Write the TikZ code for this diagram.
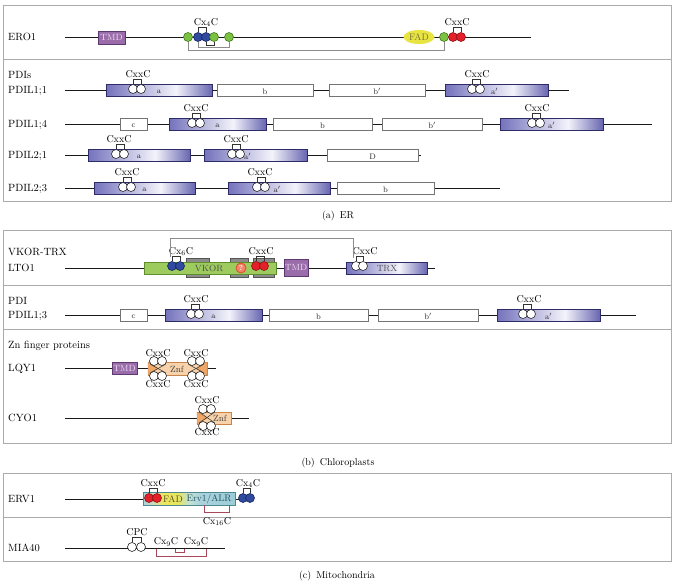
\documentclass[tikz,border=0pt]{standalone}
\usetikzlibrary{shapes.geometric,calc}
\definecolor{pdiL}{HTML}{7472BC}
\definecolor{pdiM}{HTML}{F3F3FB}
\definecolor{pdiR}{HTML}{6866B0}
\definecolor{pdiD}{HTML}{2E2C66}
\definecolor{cgreen}{HTML}{7DC143}
\definecolor{dgreen}{HTML}{3E7A1E}
\definecolor{cblue}{HTML}{2F4A9E}
\definecolor{dblue}{HTML}{17275F}
\definecolor{cred}{HTML}{E4202A}
\definecolor{dred}{HTML}{8E1414}
\definecolor{tmdF}{HTML}{9A6DAA}
\definecolor{tmdD}{HTML}{5E3A70}
\definecolor{tmdT}{HTML}{EEDDF4}
\definecolor{fadY}{HTML}{E8E442}
\definecolor{fadT}{HTML}{77703A}
\definecolor{znfF}{HTML}{F8D2AA}
\definecolor{znfD}{HTML}{C8844A}
\definecolor{znfTri}{HTML}{F0A868}
\definecolor{vkF}{HTML}{9DCB5E}
\definecolor{vkD}{HTML}{5E8E2E}
\definecolor{tmG}{HTML}{8C8C8C}
\definecolor{tmGD}{HTML}{555555}
\definecolor{ervBd}{HTML}{4E8890}
\definecolor{ervA}{HTML}{AAD2DC}
\definecolor{ervB}{HTML}{CFDDB8}
\definecolor{ervY}{HTML}{EEE85A}
\definecolor{ervY2}{HTML}{E6E460}
\definecolor{ervC}{HTML}{C2E2D4}
\definecolor{ervE}{HTML}{9CCCD8}
\definecolor{ervTxt}{HTML}{1F4F5F}
\definecolor{rbr}{HTML}{A8485A}
\definecolor{qF}{HTML}{F2866A}
\definecolor{qD}{HTML}{E04A2A}
\pgfdeclarehorizontalshading{pdishade}{100bp}{color(0bp)=(pdiL); color(25bp)=(pdiL); color(58bp)=(pdiM); color(75bp)=(pdiR); color(100bp)=(pdiR)}
\pgfdeclarehorizontalshading{ervshade}{100bp}{color(0bp)=(ervA); color(25bp)=(ervA); color(31bp)=(ervB); color(36bp)=(ervY); color(44bp)=(ervY2); color(50bp)=(ervC); color(56bp)=(ervA); color(75bp)=(ervE); color(100bp)=(ervE)}
\newcommand{\dombox}[7]{%
  \node[#1, minimum width={(#4-#3)*1pt}] (#2) at ({(#3+#4)/2},#5) {};
  \node[dl] (#2t) at ({(#3+#4)/2+#7},#5+1.5) {#6};}
\newcommand{\cpair}[7]{%
  \node[#1] (#2a) at (#3,#5) {};
  \node[#1] (#2b) at (#4,#5) {};
  \draw[brk] (#2a.north) -- ++(0,-4.5) -| (#2b.north);
  \node[motif] (#2l) at (#7,#5-12) {#6};}
\begin{document}
\begin{tikzpicture}[x=1pt,y=-1pt,
  mainline/.style={line width=0.9pt, draw=black!90},
  panel/.style={draw=black!33, line width=0.9pt},
  bdom/.style={draw=pdiD, line width=0.7pt, shade, shading=pdishade, minimum height=12pt, inner sep=0pt, outer sep=0pt},
  wdom/.style={draw=black!55, line width=0.7pt, fill=white, minimum height=12pt, inner sep=0pt, outer sep=0pt},
  dl/.style={font=\fontsize{8}{9}\selectfont, inner sep=0pt, text=black!85},
  lab/.style={font=\fontsize{10.5}{12}\selectfont, anchor=base west, inner sep=0pt, text=black},
  motif/.style={font=\fontsize{10}{12}\selectfont, anchor=base, inner sep=0pt, text=black},
  capt/.style={font=\fontsize{10}{12}\selectfont, inner sep=0pt, text=black},
  cys/.style={circle, inner sep=0pt, minimum size=9pt, line width=0.6pt},
  cw/.style={cys, draw=black!85, fill=white},
  cg/.style={cys, draw=dgreen, fill=cgreen},
  cb/.style={cys, draw=dblue, fill=cblue},
  cr/.style={cys, draw=dred, fill=cred},
  brk/.style={line width=0.6pt, draw=black!80},
  gbrk/.style={line width=0.8pt, draw=black!45},
  rbrk/.style={line width=0.6pt, draw=rbr},
  xl/.style={line width=0.5pt, draw=black!80},
  tmd/.style={draw=tmdD, fill=tmdF, line width=0.6pt, inner sep=0pt, outer sep=0pt, text=tmdT, font=\fontsize{9}{10}\selectfont},
  znfbox/.style={draw=znfD, fill=znfF, line width=0.6pt, inner sep=0pt, outer sep=0pt},
  znftri/.style={fill=znfTri, draw=znfD, line width=0.4pt},
  tmbox/.style={draw=tmGD, fill=tmG, line width=0.5pt, inner sep=0pt, outer sep=0pt, minimum height=19pt},
  vkbox/.style={draw=vkD, fill=vkF, line width=0.6pt, inner sep=0pt, outer sep=0pt, minimum height=12pt},
  domtxt/.style={font=\fontsize{9}{10}\selectfont, inner sep=0pt}
]
\fill[white] (0,0) rectangle (677,587);
\useasboundingbox (0,0) rectangle (677,587);

% ---------------- panel (a) ----------------
\draw[panel] (3,5) rectangle (671,201);
\draw[panel] (3,59) -- (671,59);
\node[capt] (capA) at (338,216) {(a)\enspace ER};

% ERO1
\node[lab] (lERO) at (8,40.5) {ERO1};
\coordinate (eroS) at (65,37); \coordinate (eroE) at (531,37);
\draw[mainline] (eroS) -- (eroE);
\node[tmd, minimum width=27pt, minimum height=13pt] (eroTMD) at (111.5,37.5) {TMD};
\node[cg] (eg1) at (188,37) {};
\cpair{cb}{eb}{198}{206}{37}{Cx$_4$C}{206}
\node[cg] (eg2) at (214,37) {};
\node[cg] (eg3) at (229,37) {};
\node[ellipse, fill=fadY, minimum width=31pt, minimum height=14pt, inner sep=0pt, text=fadT, font=\fontsize{9.5}{10}\selectfont] (eroFAD) at (419,37) {FAD};
\node[cg] (eg4) at (444,37) {};
\cpair{cr}{er}{453}{461}{37}{CxxC}{457}
\draw[brk] (ebb.south) -- ++(0,3) -| (eg2.south);
\draw[gbrk] (eba.south) -- ++(0,6) -| (eg3.south);
\draw[gbrk] (eg1.south) -- ++(0,9) -| (eg4.south);

% PDIs
\node[lab] (lPDIs) at (8,78.5) {PDIs};
% PDIL1;1
\node[lab] (lP11) at (8,93.5) {PDIL1;1};
\coordinate (p11s) at (65,90); \coordinate (p11e) at (569,90);
\draw[mainline] (p11s) -- (p11e);
\dombox{bdom}{p11a}{106}{212}{90}{a}{0}
\cpair{cw}{p11c}{133}{141}{89}{CxxC}{138}
\dombox{wdom}{p11b}{217}{313}{90}{b}{0}
\dombox{wdom}{p11bp}{329}{425}{90}{b$'$}{0}
\dombox{bdom}{p11ap}{445}{548}{90}{a$'$}{-2}
\cpair{cw}{p11d}{472}{480}{89}{CxxC}{477}

% PDIL1;4
\node[lab] (lP14) at (8,127.5) {PDIL1;4};
\coordinate (p14s) at (65,124); \coordinate (p14e) at (652,124);
\draw[mainline] (p14s) -- (p14e);
\dombox{wdom}{p14c}{120}{147}{124}{c}{0}
\dombox{bdom}{p14a}{169}{266}{124}{a}{0}
\cpair{cw}{p14x}{192}{200}{123}{CxxC}{196}
\dombox{wdom}{p14b}{273}{372}{124}{b}{0}
\dombox{wdom}{p14bp}{382}{482}{124}{b$'$}{0}
\dombox{bdom}{p14ap}{500}{603}{124}{a$'$}{0}
\cpair{cw}{p14y}{532}{540}{123}{CxxC}{537}

% PDIL2;1
\node[lab] (lP21) at (8,158.5) {PDIL2;1};
\coordinate (p21s) at (65,155); \coordinate (p21e) at (421,155);
\draw[mainline] (p21s) -- (p21e);
\dombox{bdom}{p21a}{88}{190}{155}{a}{0}
\cpair{cw}{p21x}{116}{124}{154}{CxxC}{119}
\dombox{bdom}{p21ap}{204}{307}{155}{a$'$}{-8}
\cpair{cw}{p21y}{232}{240}{154}{CxxC}{236}
\dombox{wdom}{p21D}{327}{418}{155}{D}{0}

% PDIL2;3
\node[lab] (lP23) at (8,191.5) {PDIL2;3};
\coordinate (p23s) at (65,188); \coordinate (p23e) at (500,188);
\draw[mainline] (p23s) -- (p23e);
\dombox{bdom}{p23a}{94}{195}{188}{a}{0}
\cpair{cw}{p23x}{123}{131}{187}{CxxC}{127}
\dombox{bdom}{p23ap}{228}{330}{188}{a$'$}{-2}
\cpair{cw}{p23y}{257}{265}{187}{CxxC}{260}
\dombox{wdom}{p23b}{337}{434}{188}{b}{0}

% ---------------- panel (b) ----------------
\draw[panel] (3,230) rectangle (671,443);
\draw[panel] (3,285) -- (671,285);
\draw[panel] (3,329) -- (671,329);
\node[capt] (capB) at (338,463) {(b)\enspace Chloroplasts};

% LTO1
\node[lab] (lVT) at (8,255.5) {VKOR-TRX};
\node[lab] (lLTO) at (8,271.5) {LTO1};
\coordinate (ltS) at (65,268); \coordinate (ltE) at (435,268);
\draw[mainline] (ltS) -- (ltE);
\node[tmbox, minimum width=23pt] (tm1) at (197.5,267.5) {};
\node[tmbox, minimum width=18pt] (tm2) at (239,267.5) {};
\node[tmbox, minimum width=21pt] (tm3) at (263.5,267.5) {};
\node[vkbox, minimum width=132pt] (vk) at (210,268) {};
\node[domtxt, text=black!70] (vkT) at (209,268.5) {VKOR};
\cpair{cb}{vb}{172}{180}{266}{Cx$_6$C}{181}
\node[circle, fill=qF, draw=qD, line width=0.8pt, minimum size=10pt, inner sep=0pt, text=white, font=\fontsize{7}{8}\selectfont\bfseries] (vq) at (241,268) {?};
\cpair{cr}{vr}{256}{264}{266}{CxxC}{261}
\node[tmd, minimum width=24pt, minimum height=17pt] (ltTMD) at (296,267.5) {TMD};
\dombox{bdom}{trx}{346}{427}{268}{}{0}
\node[domtxt, text=black!70] (trxT) at (387,268.5) {TRX};
\cpair{cw}{tc}{356}{363}{266}{CxxC}{365}
\coordinate (vk1) at (170,257); \coordinate (vk2) at (353,258);
\draw[gbrk] (vk1) -- (170,238) -| (vk2);

% PDIL1;3
\node[lab] (lPDI) at (8,304.5) {PDI};
\node[lab] (lP13) at (8,318.5) {PDIL1;3};
\coordinate (p13s) at (65,315); \coordinate (p13e) at (636,315);
\draw[mainline] (p13s) -- (p13e);
\dombox{wdom}{p13c}{120}{147}{315}{c}{0}
\dombox{bdom}{p13a}{165}{262}{315}{a}{0}
\cpair{cw}{p13x}{191}{199}{314}{CxxC}{196}
\dombox{wdom}{p13b}{269}{368}{315}{b}{0}
\dombox{wdom}{p13bp}{378}{478}{315}{b$'$}{0}
\dombox{bdom}{p13ap}{497}{600}{315}{a$'$}{0}
\cpair{cw}{p13y}{523}{531}{314}{CxxC}{529}

% Zn finger proteins
\node[lab] (lZn) at (8,348.5) {Zn finger proteins};
% LQY1
\node[lab] (lLQY) at (8,371.5) {LQY1};
\coordinate (lqS) at (65,368); \coordinate (lqE) at (216,368);
\draw[mainline] (lqS) -- (lqE);
\node[tmd, minimum width=25pt, minimum height=12pt] (lqTMD) at (124.5,368) {TMD};
\node[znfbox, minimum width=59pt, minimum height=13pt] (lqZ) at (177.5,368.5) {};
\filldraw[znftri] (lqZ.north west) -- (lqZ.south west) -- ($(lqZ.west)+(10,0)$) -- cycle;
\filldraw[znftri] (lqZ.north east) -- (lqZ.south east) -- ($(lqZ.east)+(-10,0)$) -- cycle;
\node[domtxt, text=black!75] (lqT) at (177,369) {Znf};
\node[cw] (lqA1) at (154,361) {}; \node[cw] (lqA2) at (162,361) {};
\node[cw] (lqA3) at (154,376) {}; \node[cw] (lqA4) at (162,376) {};
\draw[xl] (lqA1.south west) -- (lqA4.north east);
\draw[xl] (lqA3.north west) -- (lqA2.south east);
\node[cw] (lqB1) at (192,361) {}; \node[cw] (lqB2) at (200,361) {};
\node[cw] (lqB3) at (192,376) {}; \node[cw] (lqB4) at (200,376) {};
\draw[xl] (lqB1.south west) -- (lqB4.north east);
\draw[xl] (lqB3.north west) -- (lqB2.south east);
\node[motif] (lqL1) at (158,356.5) {CxxC};
\node[motif] (lqL2) at (196,356.5) {CxxC};
\node[motif] (lqL3) at (158,387.5) {CxxC};
\node[motif] (lqL4) at (196,387.5) {CxxC};

% CYO1
\node[lab] (lCYO) at (8,421.5) {CYO1};
\coordinate (cyS) at (65,418); \coordinate (cyE) at (249,418);
\draw[mainline] (cyS) -- (cyE);
\node[znfbox, minimum width=34pt, minimum height=12pt] (cyZ) at (214,418) {};
\filldraw[znftri] (cyZ.north west) -- (cyZ.south west) -- ($(cyZ.west)+(10,0)$) -- cycle;
\node[domtxt, text=black!75] (cyT) at (220,418.5) {Znf};
\node[cw] (cyA1) at (203,409) {}; \node[cw] (cyA2) at (211,409) {};
\node[cw] (cyA3) at (203,426) {}; \node[cw] (cyA4) at (211,426) {};
\draw[xl] (cyA1.south west) -- (cyA4.north east);
\draw[xl] (cyA3.north west) -- (cyA2.south east);
\node[motif] (cyL1) at (207,403.5) {CxxC};
\node[motif] (cyL2) at (207,435) {CxxC};

% ---------------- panel (c) ----------------
\draw[panel] (3,473) rectangle (671,561);
\draw[panel] (3,517) -- (671,517);
\node[capt] (capC) at (337,576) {(c)\enspace Mitochondria};

% ERV1
\node[lab] (lERV) at (8,502.5) {ERV1};
\coordinate (evS) at (65,499); \coordinate (evE) at (252,499);
\draw[mainline] (evS) -- (evE);
\node[draw=ervBd, line width=0.6pt, shade, shading=ervshade, minimum width=92pt, minimum height=13pt, inner sep=0pt, outer sep=0pt] (erv) at (189,498.5) {};
\node[font=\fontsize{9.5}{11}\selectfont, inner sep=0pt, text=fadT!70!black] (ervF) at (173,499.5) {FAD};
\node[font=\fontsize{9.5}{11}\selectfont, inner sep=0pt, text=ervTxt] (ervN) at (209,499.5) {Erv1/ALR};
\cpair{cr}{vr2}{149}{157}{498}{CxxC}{153}
\cpair{cb}{vb2}{243}{250}{498}{Cx$_4$C}{248}
\coordinate (c16a) at (204,505); \coordinate (c16b) at (229,505);
\draw[rbrk] (c16a) -- ++(0,7) -| (c16b);
\node[motif] (c16l) at (217,524) {Cx$_{16}$C};

% MIA40
\node[lab] (lMIA) at (8,551.5) {MIA40};
\coordinate (miS) at (65,548); \coordinate (miE) at (225,548);
\draw[mainline] (miS) -- (miE);
\cpair{cw}{mc}{132}{141}{547}{CPC}{137}
\node[motif] (m9a) at (166,544.5) {Cx$_9$C};
\node[motif] (m9b) at (196,544.5) {Cx$_9$C};
\coordinate (mo1) at (156,548.5); \coordinate (mo2) at (206,548.5);
\coordinate (mi1) at (175,548.5); \coordinate (mi2) at (184,548.5);
\draw[rbrk] (mo1) -- ++(0,7.5) -| (mo2);
\draw[rbrk] (mi1) -- ++(0,3.5) -| (mi2);
\end{tikzpicture}
\end{document}
